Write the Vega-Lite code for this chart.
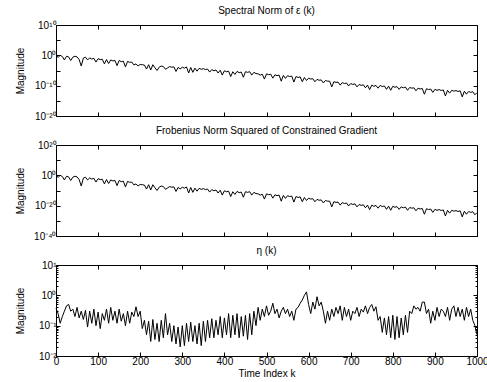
{
"$schema":"https://vega.github.io/schema/vega-lite/v6.json",
"padding":{"left":14,"top":6,"right":0,"bottom":0},
"config":{
 "font":"Liberation Sans",
 "view":{"stroke":null},
 "axis":{"grid":false,"domainColor":"black","domainWidth":1,"tickColor":"black","tickWidth":1,"tickSize":-4,"labelFont":"Liberation Sans","labelFontSize":10,"labelColor":"black","labelPadding":4,"labelFlush":false,"labelOverlap":false,"labelBound":false,"titleFont":"Liberation Sans","titleFontSize":10,"titleFontWeight":"normal","titleColor":"black"},
 "title":{"font":"Liberation Sans","fontSize":10,"fontWeight":"normal","color":"black","offset":4}
},
"data":{"values":[
{"k":0,"e":1.3,"f":1.7,"h":0.38},{"k":5,"e":0.2,"f":0.04,"h":0.25},{"k":10,"e":1,"f":1,"h":0.12},{"k":15,"e":0.4,"f":0.16,"h":0.2},{"k":20,"e":0.03,"f":9e-4,"h":0.3},{"k":25,"e":0.5,"f":0.25,"h":0.45},{"k":30,"e":0.3,"f":0.09,"h":0.5},{"k":35,"e":0.02,"f":4e-4,"h":0.3},{"k":40,"e":0.25,"f":0.06,"h":0.35},{"k":45,"e":0.5,"f":0.25,"h":0.2},
{"k":50,"e":0.3,"f":0.09,"h":0.4},{"k":55,"e":0.04,"f":1.6e-3,"h":0.18},{"k":60,"e":3e-4,"f":9e-8,"h":0.3},{"k":65,"e":0.12,"f":0.014,"h":0.16},{"k":70,"e":0.25,"f":0.06,"h":0.32},{"k":75,"e":0.03,"f":9e-4,"h":0.09},{"k":80,"e":0.15,"f":0.022,"h":0.3},{"k":85,"e":0.06,"f":3.6e-3,"h":0.12},{"k":90,"e":0.1,"f":0.01,"h":0.35},{"k":95,"e":6e-3,"f":3.6e-5,"h":0.1},
{"k":100,"e":0.08,"f":6.4e-3,"h":0.28},{"k":105,"e":0.04,"f":1.6e-3,"h":0.08},{"k":110,"e":0.05,"f":2.5e-3,"h":0.25},{"k":115,"e":1.5e-3,"f":2.2e-6,"h":0.15},{"k":120,"e":0.04,"f":1.6e-3,"h":0.35},{"k":125,"e":2e-3,"f":4e-6,"h":0.12},{"k":130,"e":0.03,"f":9e-4,"h":0.4},{"k":135,"e":0.015,"f":2.2e-4,"h":0.15},{"k":140,"e":0.02,"f":4e-4,"h":0.3},{"k":145,"e":4e-4,"f":1.6e-7,"h":0.12},
{"k":150,"e":0.02,"f":4e-4,"h":0.35},{"k":155,"e":8e-3,"f":6.4e-5,"h":0.14},{"k":160,"e":0.012,"f":1.4e-4,"h":0.25},{"k":165,"e":1.5e-4,"f":2.2e-8,"h":0.1},{"k":170,"e":0.01,"f":1e-4,"h":0.3},{"k":175,"e":5e-3,"f":2.5e-5,"h":0.12},{"k":180,"e":6e-3,"f":3.6e-5,"h":0.28},{"k":185,"e":7e-4,"f":4.9e-7,"h":0.2},{"k":190,"e":1.5e-3,"f":2.2e-6,"h":0.42},{"k":195,"e":3e-4,"f":9e-8,"h":0.2},
{"k":200,"e":1e-3,"f":1e-6,"h":0.3},{"k":205,"e":8e-4,"f":6.4e-7,"h":0.08},{"k":210,"e":6e-4,"f":3.6e-7,"h":0.15},{"k":215,"e":3e-5,"f":9e-10,"h":0.05},{"k":220,"e":8e-4,"f":6.4e-7,"h":0.14},{"k":225,"e":1.5e-5,"f":2.2e-10,"h":0.03},{"k":230,"e":8e-4,"f":6.4e-7,"h":0.16},{"k":235,"e":8e-5,"f":6.4e-9,"h":0.035},{"k":240,"e":1e-5,"f":1e-10,"h":0.12},{"k":245,"e":1.2e-4,"f":1.4e-8,"h":0.03},
{"k":250,"e":3e-4,"f":9e-8,"h":0.15},{"k":255,"e":2e-4,"f":4e-8,"h":0.04},{"k":260,"e":2.5e-5,"f":6e-10,"h":0.25},{"k":265,"e":7e-5,"f":4.9e-9,"h":0.05},{"k":270,"e":2e-4,"f":4e-8,"h":0.12},{"k":275,"e":1.2e-4,"f":1.4e-8,"h":0.03},{"k":280,"e":1.5e-4,"f":2.2e-8,"h":0.1},{"k":285,"e":5e-6,"f":2.5e-11,"h":0.025},{"k":290,"e":1e-4,"f":1e-8,"h":0.09},{"k":295,"e":3.5e-5,"f":1.2e-9,"h":0.02},
{"k":300,"e":1.2e-4,"f":1.4e-8,"h":0.1},{"k":305,"e":6e-5,"f":3.6e-9,"h":0.022},{"k":310,"e":1.5e-4,"f":2.2e-8,"h":0.12},{"k":315,"e":1.5e-6,"f":2.2e-12,"h":0.03},{"k":320,"e":1e-4,"f":1e-8,"h":0.13},{"k":325,"e":2.5e-6,"f":6e-12,"h":0.03},{"k":330,"e":6e-5,"f":3.6e-9,"h":0.1},{"k":335,"e":6e-6,"f":3.6e-11,"h":0.025},{"k":340,"e":5e-5,"f":2.5e-9,"h":0.12},{"k":345,"e":2.5e-5,"f":6e-10,"h":0.022},
{"k":350,"e":4e-5,"f":1.6e-9,"h":0.14},{"k":355,"e":2e-5,"f":4e-10,"h":0.03},{"k":360,"e":3e-5,"f":9e-10,"h":0.15},{"k":365,"e":3e-6,"f":9e-12,"h":0.04},{"k":370,"e":2e-5,"f":4e-10,"h":0.17},{"k":375,"e":8e-6,"f":6.4e-11,"h":0.04},{"k":380,"e":1.5e-5,"f":2.2e-10,"h":0.15},{"k":385,"e":1.5e-6,"f":2.2e-12,"h":0.05},{"k":390,"e":1.2e-5,"f":1.4e-10,"h":0.2},{"k":395,"e":3e-7,"f":9e-14,"h":0.04},
{"k":400,"e":8e-6,"f":6.4e-11,"h":0.18},{"k":405,"e":4e-6,"f":1.6e-11,"h":0.05},{"k":410,"e":6e-6,"f":3.6e-11,"h":0.25},{"k":415,"e":1e-7,"f":1e-14,"h":0.04},{"k":420,"e":4e-6,"f":1.6e-11,"h":0.22},{"k":425,"e":5e-7,"f":2.5e-13,"h":0.05},{"k":430,"e":5e-6,"f":2.5e-11,"h":0.25},{"k":435,"e":2e-6,"f":4e-12,"h":0.04},{"k":440,"e":3e-6,"f":9e-12,"h":0.2},{"k":445,"e":6e-8,"f":3.6e-15,"h":0.045},
{"k":450,"e":4e-6,"f":1.6e-11,"h":0.22},{"k":455,"e":2.5e-6,"f":6e-12,"h":0.035},{"k":460,"e":4e-6,"f":1.6e-11,"h":0.25},{"k":465,"e":3e-7,"f":9e-14,"h":0.05},{"k":470,"e":2.5e-6,"f":6e-12,"h":0.3},{"k":475,"e":1e-6,"f":1e-12,"h":0.1},{"k":480,"e":8e-7,"f":6.4e-13,"h":0.4},{"k":485,"e":3e-7,"f":9e-14,"h":0.15},{"k":490,"e":6e-7,"f":3.6e-13,"h":0.35},{"k":495,"e":1.5e-8,"f":2.2e-16,"h":0.2},
{"k":500,"e":8e-7,"f":6.4e-13,"h":0.45},{"k":505,"e":4e-7,"f":1.6e-13,"h":0.22},{"k":510,"e":6e-7,"f":3.6e-13,"h":0.3},{"k":515,"e":3e-8,"f":9e-16,"h":0.55},{"k":520,"e":4e-7,"f":1.6e-13,"h":0.25},{"k":525,"e":2e-7,"f":4e-14,"h":0.35},{"k":530,"e":3e-7,"f":9e-14,"h":0.18},{"k":535,"e":3e-9,"f":9e-18,"h":0.3},{"k":540,"e":2.5e-7,"f":6e-14,"h":0.4},{"k":545,"e":2.5e-8,"f":6e-16,"h":0.25},
{"k":550,"e":2e-7,"f":4e-14,"h":0.35},{"k":555,"e":1e-7,"f":1e-14,"h":0.2},{"k":560,"e":1.5e-7,"f":2.2e-14,"h":0.3},{"k":565,"e":1.5e-9,"f":2.2e-18,"h":0.15},{"k":570,"e":1e-7,"f":1e-14,"h":0.35},{"k":575,"e":5e-8,"f":2.5e-15,"h":0.4},{"k":580,"e":8e-8,"f":6.4e-15,"h":0.55},{"k":585,"e":2e-9,"f":4e-18,"h":0.7},{"k":590,"e":5e-8,"f":2.5e-15,"h":1.0},{"k":595,"e":5e-9,"f":2.5e-17,"h":1.3},
{"k":600,"e":3e-8,"f":9e-16,"h":0.5},{"k":605,"e":1.5e-8,"f":2.2e-16,"h":0.25},{"k":610,"e":2e-8,"f":4e-16,"h":0.6},{"k":615,"e":2e-9,"f":4e-18,"h":0.35},{"k":620,"e":1.2e-8,"f":1.4e-16,"h":0.9},{"k":625,"e":6e-9,"f":3.6e-17,"h":0.45},{"k":630,"e":8e-9,"f":6.4e-17,"h":0.6},{"k":635,"e":8e-10,"f":6.4e-19,"h":0.3},{"k":640,"e":5e-9,"f":2.5e-17,"h":0.12},{"k":645,"e":3e-9,"f":9e-18,"h":0.3},
{"k":650,"e":3e-9,"f":9e-18,"h":0.15},{"k":655,"e":4e-11,"f":1.6e-21,"h":0.35},{"k":660,"e":2e-9,"f":4e-18,"h":0.2},{"k":665,"e":1.2e-9,"f":1.4e-18,"h":0.4},{"k":670,"e":1.5e-9,"f":2.2e-18,"h":0.25},{"k":675,"e":1.5e-10,"f":2.2e-20,"h":0.45},{"k":680,"e":1e-9,"f":1e-18,"h":0.15},{"k":685,"e":5e-10,"f":2.5e-19,"h":0.4},{"k":690,"e":8e-10,"f":6.4e-19,"h":0.2},{"k":695,"e":8e-11,"f":6.4e-21,"h":0.35},
{"k":700,"e":5e-10,"f":2.5e-19,"h":0.15},{"k":705,"e":2.5e-10,"f":6e-20,"h":0.3},{"k":710,"e":4e-10,"f":1.6e-19,"h":0.25},{"k":715,"e":4e-11,"f":1.6e-21,"h":0.4},{"k":720,"e":2.5e-10,"f":6e-20,"h":0.2},{"k":725,"e":1.2e-10,"f":1.4e-20,"h":0.35},{"k":730,"e":2e-10,"f":4e-20,"h":0.28},{"k":735,"e":2e-11,"f":4e-22,"h":0.45},{"k":740,"e":1.5e-10,"f":2.2e-20,"h":0.25},{"k":745,"e":5e-12,"f":2.5e-23,"h":0.4},
{"k":750,"e":1.5e-10,"f":2.2e-20,"h":0.5},{"k":755,"e":6e-11,"f":3.6e-21,"h":0.3},{"k":760,"e":1.2e-10,"f":1.4e-20,"h":0.42},{"k":765,"e":1.5e-11,"f":2.2e-22,"h":0.15},{"k":770,"e":1.2e-10,"f":1.4e-20,"h":0.2},{"k":775,"e":5e-11,"f":2.5e-21,"h":0.06},{"k":780,"e":8e-11,"f":6.4e-21,"h":0.18},{"k":785,"e":6e-12,"f":3.6e-23,"h":0.05},{"k":790,"e":7e-11,"f":4.9e-21,"h":0.2},{"k":795,"e":3e-12,"f":9e-24,"h":0.04},
{"k":800,"e":6e-11,"f":3.6e-21,"h":0.22},{"k":805,"e":3e-11,"f":9e-22,"h":0.035},{"k":810,"e":5e-11,"f":2.5e-21,"h":0.2},{"k":815,"e":6e-12,"f":3.6e-23,"h":0.04},{"k":820,"e":4e-11,"f":1.6e-21,"h":0.18},{"k":825,"e":2e-11,"f":4e-22,"h":0.05},{"k":830,"e":3.5e-11,"f":1.2e-21,"h":0.22},{"k":835,"e":3e-12,"f":9e-24,"h":0.06},{"k":840,"e":2.5e-11,"f":6e-22,"h":0.3},{"k":845,"e":1.5e-11,"f":2.2e-22,"h":0.25},
{"k":850,"e":2e-11,"f":4e-22,"h":0.45},{"k":855,"e":2e-12,"f":4e-24,"h":0.35},{"k":860,"e":1.5e-11,"f":2.2e-22,"h":0.4},{"k":865,"e":8e-12,"f":6.4e-23,"h":0.3},{"k":870,"e":1.2e-11,"f":1.4e-22,"h":0.6},{"k":875,"e":1.5e-13,"f":2.2e-26,"h":0.6},{"k":880,"e":1e-11,"f":1e-22,"h":0.25},{"k":885,"e":5e-12,"f":2.5e-23,"h":0.35},{"k":890,"e":8e-12,"f":6.4e-23,"h":0.12},{"k":895,"e":6e-13,"f":3.6e-25,"h":0.3},
{"k":900,"e":6e-12,"f":3.6e-23,"h":0.15},{"k":905,"e":3e-12,"f":9e-24,"h":0.4},{"k":910,"e":5e-12,"f":2.5e-23,"h":0.2},{"k":915,"e":2.5e-12,"f":6e-24,"h":0.35},{"k":920,"e":4e-12,"f":1.6e-23,"h":0.3},{"k":925,"e":4e-14,"f":1.6e-27,"h":0.2},{"k":930,"e":3e-12,"f":9e-24,"h":0.4},{"k":935,"e":3.5e-13,"f":1.2e-25,"h":0.15},{"k":940,"e":3e-12,"f":9e-24,"h":0.35},{"k":945,"e":1.5e-12,"f":2.2e-24,"h":0.45},
{"k":950,"e":2.5e-12,"f":6e-24,"h":0.2},{"k":955,"e":1.2e-12,"f":1.4e-24,"h":0.4},{"k":960,"e":2e-12,"f":4e-24,"h":0.2},{"k":965,"e":2e-14,"f":4e-28,"h":0.35},{"k":970,"e":1.5e-12,"f":2.2e-24,"h":0.15},{"k":975,"e":1.5e-13,"f":2.2e-26,"h":0.4},{"k":980,"e":1.2e-12,"f":1.4e-24,"h":0.2},{"k":985,"e":6e-13,"f":3.6e-25,"h":0.35},{"k":990,"e":1e-12,"f":1e-24,"h":0.15},{"k":995,"e":1e-13,"f":1e-26,"h":0.1},
{"k":1000,"e":5e-13,"f":2.5e-25,"h":0.05}
]},
"spacing":29,
"bounds":"flush",
"vconcat":[
{
 "width":421,"height":91,
 "title":"Spectral Norm of ε (k)",
 "layer":[
  {"mark":{"type":"line","color":"black","strokeWidth":1},
   "encoding":{
    "x":{"field":"k","type":"quantitative","scale":{"domain":[0,1000],"nice":false,"zero":false},"axis":{"values":[0,100,200,300,400,500,600,700,800,900,1000],"labels":false,"title":null}},
    "y":{"field":"e","type":"quantitative","scale":{"type":"log","domain":[1e-20,1e10],"nice":false},"axis":{"values":[1e10,1,1e-10,1e-20],"labelExpr":"datum.value > 1e9 ? '10¹⁰' : datum.value > 0.1 ? '10⁰' : datum.value > 1e-11 ? '10⁻¹⁰' : '10⁻²⁰'","title":"Magnitude","titleX":-36,"titleBaseline":"middle","titleAlign":"center","titleAngle":-90}}}},
  {"mark":{"type":"line","opacity":0},
   "encoding":{
    "x":{"field":"k","type":"quantitative","scale":{"domain":[0,1000],"nice":false,"zero":false},"axis":{"orient":"top","values":[0,100,200,300,400,500,600,700,800,900,1000],"labels":false,"title":null}},
    "y":{"field":"e","type":"quantitative","scale":{"type":"log","domain":[1e-20,1e10],"nice":false},"axis":{"orient":"right","values":[1e10,1e5,1,1e-5,1e-10,1e-15,1e-20],"labels":false,"title":null}}}},
  {"mark":{"type":"line","opacity":0},
   "encoding":{
    "x":{"field":"k","type":"quantitative","scale":{"domain":[0,1000],"nice":false,"zero":false},"axis":null},
    "y":{"field":"e","type":"quantitative","scale":{"type":"log","domain":[1e-20,1e10],"nice":false},"axis":{"orient":"left","values":[1e5,1e-5,1e-15],"labels":false,"title":null,"domain":false}}}}
 ],
 "resolve":{"axis":{"x":"independent","y":"independent"}}
},
{
 "width":421,"height":91,
 "title":"Frobenius Norm Squared of Constrained Gradient",
 "layer":[
  {"mark":{"type":"line","color":"black","strokeWidth":1},
   "encoding":{
    "x":{"field":"k","type":"quantitative","scale":{"domain":[0,1000],"nice":false,"zero":false},"axis":{"values":[0,100,200,300,400,500,600,700,800,900,1000],"labels":false,"title":null}},
    "y":{"field":"f","type":"quantitative","scale":{"type":"log","domain":[1e-40,1e20],"nice":false},"axis":{"values":[1e20,1,1e-20,1e-40],"labelExpr":"datum.value > 1e19 ? '10²⁰' : datum.value > 0.1 ? '10⁰' : datum.value > 1e-21 ? '10⁻²⁰' : '10⁻⁴⁰'","title":"Magnitude","titleX":-36,"titleBaseline":"middle","titleAlign":"center","titleAngle":-90}}}},
  {"mark":{"type":"line","opacity":0},
   "encoding":{
    "x":{"field":"k","type":"quantitative","scale":{"domain":[0,1000],"nice":false,"zero":false},"axis":{"orient":"top","values":[0,100,200,300,400,500,600,700,800,900,1000],"labels":false,"title":null}},
    "y":{"field":"f","type":"quantitative","scale":{"type":"log","domain":[1e-40,1e20],"nice":false},"axis":{"orient":"right","values":[1e20,1e10,1,1e-10,1e-20,1e-30,1e-40],"labels":false,"title":null}}}},
  {"mark":{"type":"line","opacity":0},
   "encoding":{
    "x":{"field":"k","type":"quantitative","scale":{"domain":[0,1000],"nice":false,"zero":false},"axis":null},
    "y":{"field":"f","type":"quantitative","scale":{"type":"log","domain":[1e-40,1e20],"nice":false},"axis":{"orient":"left","values":[1e10,1e-10,1e-30],"labels":false,"title":null,"domain":false}}}}
 ],
 "resolve":{"axis":{"x":"independent","y":"independent"}}
},
{
 "width":421,"height":91,
 "title":"η (k)",
 "layer":[
  {"mark":{"type":"line","color":"black","strokeWidth":1},
   "encoding":{
    "x":{"field":"k","type":"quantitative","scale":{"domain":[0,1000],"nice":false,"zero":false},"axis":{"values":[0,100,200,300,400,500,600,700,800,900,1000],"format":"d","title":"Time Index k","titlePadding":2}},
    "y":{"field":"h","type":"quantitative","scale":{"type":"log","domain":[0.01,10],"nice":false},"axis":{"values":[10,1,0.1,0.01],"labelExpr":"datum.value > 5 ? '10¹' : datum.value > 0.5 ? '10⁰' : datum.value > 0.05 ? '10⁻¹' : '10⁻²'","title":"Magnitude","titleX":-36,"titleBaseline":"middle","titleAlign":"center","titleAngle":-90}}}},
  {"mark":{"type":"line","opacity":0},
   "encoding":{
    "x":{"field":"k","type":"quantitative","scale":{"domain":[0,1000],"nice":false,"zero":false},"axis":{"orient":"top","values":[0,100,200,300,400,500,600,700,800,900,1000],"labels":false,"title":null}},
    "y":{"field":"h","type":"quantitative","scale":{"type":"log","domain":[0.01,10],"nice":false},"axis":{"orient":"right","values":[10,1,0.1,0.01],"labels":false,"title":null}}}},
  {"mark":{"type":"line","opacity":0},
   "encoding":{
    "x":{"field":"k","type":"quantitative","scale":{"domain":[0,1000],"nice":false,"zero":false},"axis":null},
    "y":{"field":"h","type":"quantitative","scale":{"type":"log","domain":[0.01,10],"nice":false},"axis":{"orient":"left","values":[0.02,0.03,0.04,0.05,0.06,0.07,0.08,0.09,0.2,0.3,0.4,0.5,0.6,0.7,0.8,0.9,2,3,4,5,6,7,8,9],"labels":false,"title":null,"domain":false,"tickSize":-2}}}},
  {"mark":{"type":"line","opacity":0},
   "encoding":{
    "x":{"field":"k","type":"quantitative","scale":{"domain":[0,1000],"nice":false,"zero":false},"axis":null},
    "y":{"field":"h","type":"quantitative","scale":{"type":"log","domain":[0.01,10],"nice":false},"axis":{"orient":"right","values":[0.02,0.03,0.04,0.05,0.06,0.07,0.08,0.09,0.2,0.3,0.4,0.5,0.6,0.7,0.8,0.9,2,3,4,5,6,7,8,9],"labels":false,"title":null,"domain":false,"tickSize":-2}}}}
 ],
 "resolve":{"axis":{"x":"independent","y":"independent"}}
}
]
}
